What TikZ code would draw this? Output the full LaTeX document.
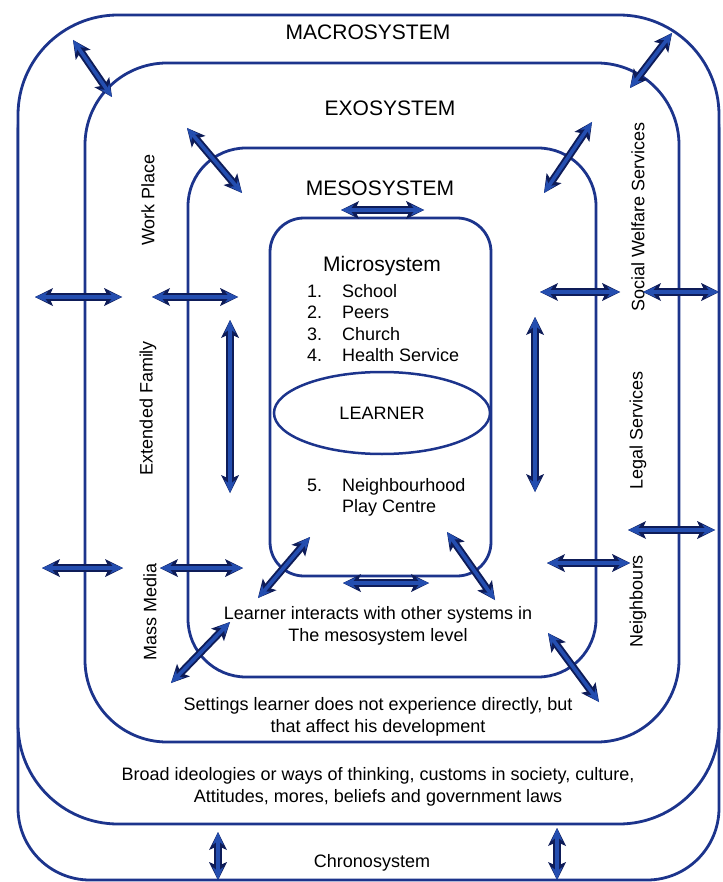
\documentclass[tikz,border=0pt]{standalone}
\usepackage{fontspec}
\setmainfont{Liberation Sans}
\usetikzlibrary{arrows.meta,shapes.geometric}
\definecolor{ringblue}{RGB}{28,52,140}
\definecolor{linkblue}{RGB}{36,78,176}
\definecolor{linknavy}{RGB}{14,28,88}
\tikzstyle{ring}=[rectangle,draw=ringblue,line width=2.8pt,fill=white,inner sep=0pt]
\tikzstyle{title}=[font=\fontsize{21}{25}\selectfont]
\tikzstyle{txt}=[font=\fontsize{18}{21.5}\selectfont,align=center,inner sep=0pt]
\tikzstyle{side}=[txt,rotate=90]
\tikzstyle{link}=[line width=3.6pt,draw=linkblue,
  {Stealth[length=13pt,width=11pt,line width=0pt]}-{Stealth[length=13pt,width=11pt,line width=0pt]},
  preaction={draw=linknavy,line width=7.5pt,
  {Stealth[length=18pt,width=18pt,inset=4pt,line width=0pt]}-{Stealth[length=18pt,width=18pt,inset=4pt,line width=0pt]}}]

\begin{document}
\begin{tikzpicture}[x=1pt,y=-1pt]
  \useasboundingbox (0,0) rectangle (722,882);

  % nested systems
  \node[ring,rounded corners=72pt,minimum width=701pt,minimum height=820pt] (chrono) at (368.5,470) {};
  \node[ring,rounded corners=100pt,minimum width=701pt,minimum height=809pt] (macro) at (368.5,419.5) {};
  \node[ring,rounded corners=82pt,minimum width=594pt,minimum height=679pt] (exo) at (382,402.5) {};
  \node[ring,rounded corners=58pt,minimum width=408pt,minimum height=529pt] (meso) at (392,412.5) {};
  \node[ring,rounded corners=34pt,minimum width=221pt,minimum height=358pt] (micro) at (380.5,397) {};
  \node[ellipse,draw=ringblue,line width=2.5pt,minimum width=216pt,minimum height=82pt,txt] (learner) at (382,413) {LEARNER};

  % titles
  \node[title] (macroT) at (368,32) {MACROSYSTEM};
  \node[title] (exoT) at (390,108) {EXOSYSTEM};
  \node[title] (mesoT) at (380,188) {MESOSYSTEM};
  \node[title] (microT) at (382,266) {Microsystem};
  \node[txt,anchor=base west] (list) at (307,297) {\begin{tabular}[t]{@{}l@{\hspace{20pt}}l@{}}
    1. & School\\ 2. & Peers\\ 3. & Church\\ 4. & Health Service\end{tabular}};
  \node[txt,anchor=base west] (play) at (307,491) {\begin{tabular}[t]{@{}l@{\hspace{20pt}}l@{}}
    5. & Neighbourhood\\ & Play Centre\end{tabular}};

  % settings on the sides
  \node[side] (work) at (148,200) {Work Place};
  \node[side] (family) at (148,408) {Extended Family};
  \node[side] (media) at (150,612) {Mass Media};
  \node[side] (welfare) at (638,217) {Social Welfare Services};
  \node[side] (legal) at (638,430) {Legal Services};
  \node[side] (neigh) at (638,601) {Neighbours};

  % descriptions
  \node[txt] (mesoD) at (378,626) {Learner interacts with other systems in\\The mesosystem level};
  \node[txt] (exoD) at (378,717) {Settings learner does not experience directly, but\\that affect his development};
  \node[txt] (macroD) at (378,787) {Broad ideologies or ways of thinking, customs in society, culture,\\Attitudes, mores, beliefs and government laws};
  \node[txt] (chronoT) at (372,863) {Chronosystem};

  % arrow ends
  \coordinate (a1) at (73,40);   \coordinate (b1) at (112,97);
  \coordinate (a2) at (672,33);  \coordinate (b2) at (630,88);
  \coordinate (a3) at (187,128); \coordinate (b3) at (242,193);
  \coordinate (a4) at (592,122); \coordinate (b4) at (544,193);
  \coordinate (a5) at (341,210); \coordinate (b5) at (424,210);
  \coordinate (a6) at (35,297);  \coordinate (b6) at (122,297);
  \coordinate (a7) at (152,297); \coordinate (b7) at (238,297);
  \coordinate (a8) at (540,292); \coordinate (b8) at (620,292);
  \coordinate (a9) at (643,292); \coordinate (b9) at (719,292);
  \coordinate (a10) at (230,320); \coordinate (b10) at (230,493);
  \coordinate (a11) at (535,317); \coordinate (b11) at (535,492);
  \coordinate (a12) at (628,530); \coordinate (b12) at (715,530);
  \coordinate (a13) at (42,568);  \coordinate (b13) at (123,568);
  \coordinate (a14) at (160,568); \coordinate (b14) at (243,568);
  \coordinate (a15) at (547,563); \coordinate (b15) at (630,563);
  \coordinate (a16) at (343,583); \coordinate (b16) at (429,583);
  \coordinate (a17) at (310,537); \coordinate (b17) at (258,598);
  \coordinate (a18) at (447,532); \coordinate (b18) at (495,600);
  \coordinate (a19) at (230,622); \coordinate (b19) at (171,683);
  \coordinate (a20) at (548,633); \coordinate (b20) at (599,702);
  \coordinate (a21) at (218,832); \coordinate (b21) at (218,880);
  \coordinate (a22) at (557,828); \coordinate (b22) at (557,880);

  \draw[link] (a1)--(b1); \draw[link] (a2)--(b2);
  \draw[link] (a3)--(b3); \draw[link] (a4)--(b4);
  \draw[link] (a5)--(b5);
  \draw[link] (a6)--(b6); \draw[link] (a7)--(b7);
  \draw[link] (a8)--(b8); \draw[link] (a9)--(b9);
  \draw[link] (a10)--(b10); \draw[link] (a11)--(b11);
  \draw[link] (a12)--(b12);
  \draw[link] (a13)--(b13); \draw[link] (a14)--(b14);
  \draw[link] (a15)--(b15); \draw[link] (a16)--(b16);
  \draw[link] (a17)--(b17); \draw[link] (a18)--(b18);
  \draw[link] (a19)--(b19); \draw[link] (a20)--(b20);
  \draw[link] (a21)--(b21); \draw[link] (a22)--(b22);

\end{tikzpicture}
\end{document}
